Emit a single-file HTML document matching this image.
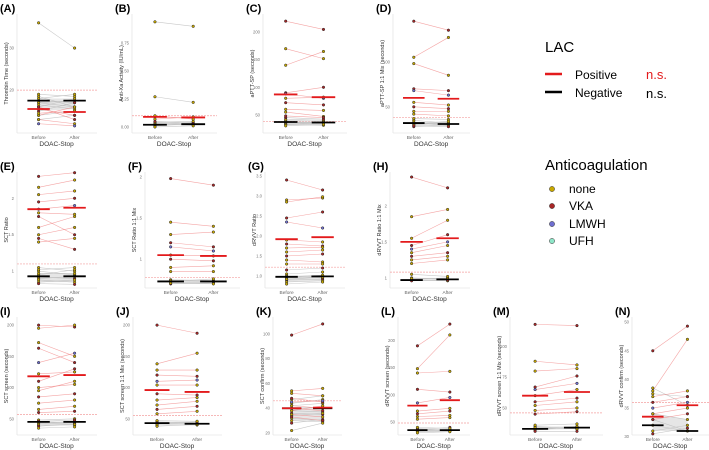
<!DOCTYPE html>
<html><head><meta charset="utf-8"><style>
html,body{margin:0;padding:0;background:#fff}
svg{display:block;font-family:"Liberation Sans",Arial,sans-serif}
</style></head><body>
<svg id="fig" width="709" height="450" viewBox="0 0 709 450">
<g>
<text x="545" y="52" font-size="15">LAC</text>
<line x1="545" y1="74" x2="562" y2="74" stroke="#e31a1c" stroke-width="2.5"/>
<text x="575" y="79" font-size="12">Positive</text>
<text x="646" y="79" font-size="13" fill="#e31a1c">n.s.</text>
<line x1="545" y1="92" x2="562" y2="92" stroke="#000" stroke-width="2.5"/>
<text x="575" y="97" font-size="12">Negative</text>
<text x="646" y="98" font-size="13">n.s.</text>
<text x="545" y="170" font-size="15">Anticoagulation</text>
<circle cx="552" cy="189" r="2.6" fill="#c8a800" stroke="#333" stroke-width="0.5"/>
<text x="569" y="193" font-size="12">none</text>
<circle cx="552" cy="206" r="2.6" fill="#a82626" stroke="#333" stroke-width="0.5"/>
<text x="569" y="210" font-size="12">VKA</text>
<circle cx="552" cy="224" r="2.6" fill="#6f6fd0" stroke="#333" stroke-width="0.5"/>
<text x="569" y="228" font-size="12">LMWH</text>
<circle cx="552" cy="241" r="2.6" fill="#8ee6c8" stroke="#333" stroke-width="0.5"/>
<text x="569" y="245" font-size="12">UFH</text>
</g>
</svg>
<script>
// ---- data (values per panel) ----
const panelIds = ["A","B","C","D","E","F","G","H","I","J","K","L","M","N"];
const yTitles = ["Thrombin Time (seconds)","Anti-Xa Activity (IU/mL)","aPTT-SP (seconds)","aPTT-SP 1:1 Mix (seconds)","SCT Ratio","SCT Ratio 1:1 Mix","dRVVT Ratio","dRVVT Ratio 1:1 Mix","SCT screen (seconds)","SCT screen 1:1 Mix (seconds)","SCT confirm (seconds)","dRVVT screen (seconds)","dRVVT screen 1:1 Mix (seconds)","dRVVT confirm (seconds)"];
const yDomains = [[9.8,38.1],[-0.054,1.01],[17,233],[21,153],[0.77,2.36],[0.65,2.06],[0.7,3.6],[0.86,2.47],[24,213],[24,213],[18.4,113.6],[26,243],[28,124],[30.3,50.9]];
const yTicks = [[20,30],[0,0.25,0.5,0.75],[50,100,150,200],[50,100],[1,1.5,2],[1,1.5,2],[1,1.5,2,2.5,3,3.5],[1,1.5,2],[50,100,150,200],[50,100,150,200],[20,40,60,80,100],[50,100,150,200],[50,75,100],[30,35,40,45,50]];
const tickLabels = [["20","30"],["0.00","0.25","0.50","0.75"],["50","100","150","200"],["50","100"],["1","1.5","2"],["1","1.5","2"],["1.0","1.5","2.0","2.5","3.0","3.5"],["1","1.5","2"],["50","100","150","200"],["50","100","150","200"],["20","40","60","80","100"],["50","100","150","200"],["50","75","100"],["30","35","40","45","50"]];
const cutoffs = [20,0.1,38,38,1.1,0.78,1.22,1.08,57,55,46,48,46,36];
const medPos = [[15.5,14.8],[0.09,0.085],[87,82],[60,59],[1.85,1.87],[1.05,1.04],[1.92,1.97],[1.5,1.55],[118,120],[96,93],[40,40.5],[80,90],[60,63],[33.5,35.5]];
const medNeg = [[17.5,17.5],[0.02,0.025],[37,36],[32,31],[0.93,0.93],[0.73,0.73],[0.98,0.99],[0.97,0.98],[45,45],[43,42],[40,40],[35,35],[33,34],[32,31]];
const posPairs = [
 [[15.5,14],[13,12],[14,16],[16,13],[12,11.5],[14.5,15]],
 [[0.09,0.08],[0.07,0.09],[0.1,0.07]],
 [[220,205],[170,152],[140,165],[90,100],[88,80],[80,82],[72,68],[60,58],[55,47],[48,45]],
 [[145,135],[105,127],[98,85],[70,68],[68,63],[55,52],[50,48],[45,45],[42,40]],
 [[2.3,2.35],[2.15,2.25],[2.05,2.1],[1.95,2.0],[1.85,1.9],[1.8,1.78],[1.75,1.5],[1.6,1.75],[1.5,1.6],[1.45,1.3],[1.4,1.45]],
 [[1.98,1.9],[1.45,1.4],[1.3,1.33],[1.2,1.15],[1.15,1.1],[1.05,1.04],[1.0,0.98],[0.9,0.92],[0.85,0.85]],
 [[3.4,3.15],[2.9,2.95],[2.85,2.98],[2.45,2.6],[2.35,2.2],[1.9,1.85],[1.8,1.75],[1.7,1.72],[1.6,1.65],[1.5,1.55],[1.4,1.35],[1.3,1.3]],
 [[2.4,2.25],[1.85,1.95],[1.55,1.8],[1.45,1.6],[1.4,1.5],[1.35,1.45],[1.3,1.35],[1.25,1.3],[1.2,1.25]],
 [[200,197],[195,200],[172,150],[163,140],[140,155],[122,125],[110,130],[100,105],[95,110],[85,90],[75,80],[65,70],[60,62]],
 [[200,187],[138,155],[128,128],[120,118],[110,112],[104,104],[90,88],[80,84],[72,78],[65,70],[58,62]],
 [[99,108],[54,56],[52,50],[48,45],[45,46],[42,40],[40,38],[38,42],[35,33],[33,30]],
 [[190,230],[148,210],[140,143],[110,105],[85,95],[70,75],[65,70],[60,62],[55,58]],
 [[118,117],[88,85],[80,82],[67,76],[65,70],[60,65],[55,58],[52,55],[48,50],[45,47]],
 [[45,49.3],[38,47],[37,38],[36,37],[35,36],[34,35],[33,34]]
];
const negPairs = [
 [[36,30],[19,18.5],[18,19],[17,17.5],[17.5,17],[16,18],[18.5,16],[15,17],[17,16],[16.5,15.5],[14,15],[13,14]],
 [[0.94,0.9],[0.27,0.22],[0.03,0.02],[0.02,0.04],[0.01,0.03],[0.04,0.05],[0.0,0.01],[0.05,0.03]],
 [[37,36],[36,33],[40,38],[35,37],[33,34],[42,40],[38,35],[45,42],[32,31],[30,33]],
 [[32,31],[30,33],[35,32],[28,30],[37,36],[33,29],[31,34],[29,28]],
 [[1.05,1.0],[1.0,0.95],[0.95,1.02],[0.92,0.9],[0.9,0.93],[0.88,0.85],[0.85,0.88],[0.83,0.82],[1.02,1.05],[0.97,0.97]],
 [[0.75,0.74],[0.73,0.76],[0.72,0.72],[0.7,0.71],[0.74,0.73],[0.71,0.7]],
 [[1.05,1.1],[1.0,0.95],[0.95,1.0],[0.9,0.92],[0.85,0.88],[0.98,1.02],[0.92,0.97],[1.15,1.2],[0.8,0.85]],
 [[1.0,0.98],[0.98,1.0],[0.97,0.96],[0.96,0.97],[1.05,1.02],[0.99,0.99]],
 [[45,44],[42,46],[40,40],[38,42],[35,37],[48,50],[44,41],[46,48]],
 [[43,42],[42,45],[40,40],[45,43],[38,41],[47,46]],
 [[42,44],[40,41],[38,37],[36,35],[34,36],[32,30],[30,29],[28,31],[22,28],[47,50],[44,47]],
 [[35,36],[33,35],[38,34],[36,40],[32,33],[40,38],[30,32]],
 [[33,34],[32,35],[35,33],[31,31],[36,37],[34,33]],
 [[32,31],[31,32],[33,31],[30.5,31.5],[34,33],[38.5,35.5],[37.5,37]]
];
// ---- layout ----
const plotL = [17,132,263,393, 17,145,265,390, 17,133,273,398,510,632];
const plotR = [97,217,347,470, 97,240,345,470, 97,222,342,470,603,709];
const rowOf = [0,0,0,0,1,1,1,1,2,2,2,2,2,2];
const rowTop = [14,172,317], rowBot = [133,288,435];
const NS="http://www.w3.org/2000/svg";
const svg=document.getElementById('fig');
function mk(tag,attrs,parent){const e=document.createElementNS(NS,tag);for(const k in attrs)e.setAttribute(k,attrs[k]);parent.appendChild(e);return e;}
const colors={n:"#c8a800",v:"#a82626",l:"#6f6fd0",u:"#8ee6c8"};
function q(arr,p){const s=arr.slice().sort((a,b)=>a-b);return s[Math.min(s.length-1,Math.max(0,Math.round(p*(s.length-1))))];}
panelIds.forEach((id,i)=>{
  const L=plotL[i],R=plotR[i],T=rowTop[rowOf[i]],B=rowBot[rowOf[i]],W=R-L;
  const [lo,hi]=yDomains[i];
  const y=v=>B-(v-lo)/(hi-lo)*(B-T);
  const xb=L+0.27*W, xa=L+0.72*W, hw=0.14*W;
  const g=mk('g',{},svg);
  
  
  const lab=mk('text',{x:L-17,y:T-2,'font-size':11,'font-weight':'bold'},g); lab.textContent='('+id+')';
  
  
  const ax=mk('line',{x1:L,y1:T,x2:L,y2:B,stroke:'#ddd','stroke-width':0.6},g);
  
  
  mk('line',{x1:L,y1:B,x2:R,y2:B,stroke:'#ddd','stroke-width':0.6},g);
  yTicks[i].forEach((t,j)=>{
    const tl=mk('text',{x:L-3,y:y(t)+1.5,'font-size':4.2,'text-anchor':'end',fill:'#777'},g); tl.textContent=tickLabels[i][j];
    
    
  });
  const yt=mk('text',{x:0,y:0,'font-size':5.5,'text-anchor':'middle',fill:'#333',transform:`translate(${L-9},${(T+B)/2}) rotate(-90)`},g); yt.textContent=yTitles[i];
  
  
  [['Before',xb],['After',xa]].forEach(([s,x])=>{const t=mk('text',{x:x,y:B+6,'font-size':4.8,'text-anchor':'middle',fill:'#666'},g);t.textContent=s;
    
    });
  const xt=mk('text',{x:(xb+xa)/2,y:B+13,'font-size':6.5,'text-anchor':'middle',fill:'#333'},g); xt.textContent='DOAC-Stop';
  
  
  const nb=negPairs[i].map(p=>p[0]), na=negPairs[i].map(p=>p[1]);
  const band=mk('polygon',{points:`${xb},${y(q(nb,0.7))} ${xa},${y(q(na,0.7))} ${xa},${y(q(na,0.15))} ${xb},${y(q(nb,0.15))}`,fill:'#e6e6e6'},g);
  
  
  const cut=mk('line',{x1:L,y1:y(cutoffs[i]),x2:R,y2:y(cutoffs[i]),stroke:'#f4a0a0','stroke-width':0.7,'stroke-dasharray':'2,1'},g);
  
  
  negPairs[i].forEach(p=>{const l=mk('line',{x1:xb,y1:y(p[0]),x2:xa,y2:y(p[1]),stroke:'#bbb','stroke-width':0.6,opacity:0.8},g);
    
    });
  posPairs[i].forEach(p=>{const l=mk('line',{x1:xb,y1:y(p[0]),x2:xa,y2:y(p[1]),stroke:'#f08080','stroke-width':0.6,opacity:0.7},g);
    
    });
  const dot=(x,v,c)=>{const d=mk('circle',{cx:x,cy:y(v),r:1.3,fill:c,stroke:'#222','stroke-width':0.5},g);
    
    };
  negPairs[i].forEach((p,k)=>{const c=colors[k%4==3?'v':'n'];dot(xb,p[0],c);dot(xa,p[1],c);});
  posPairs[i].forEach((p,k)=>{const c=colors[k%3==0?'v':(k%5==4?'l':'n')];dot(xb,p[0],c);dot(xa,p[1],c);});
  const mline=(x,v,c,nm)=>{const m=mk('line',{x1:x-hw,y1:y(v),x2:x+hw,y2:y(v),stroke:c,'stroke-width':1.8},g);
    
    };
  mline(xb,medNeg[i][0],'#000','median-negative-before');
  mline(xa,medNeg[i][1],'#000','median-negative-after');
  mline(xb,medPos[i][0],'#e31a1c','median-positive-before');
  mline(xa,medPos[i][1],'#e31a1c','median-positive-after');
});
</script>
</body></html>
